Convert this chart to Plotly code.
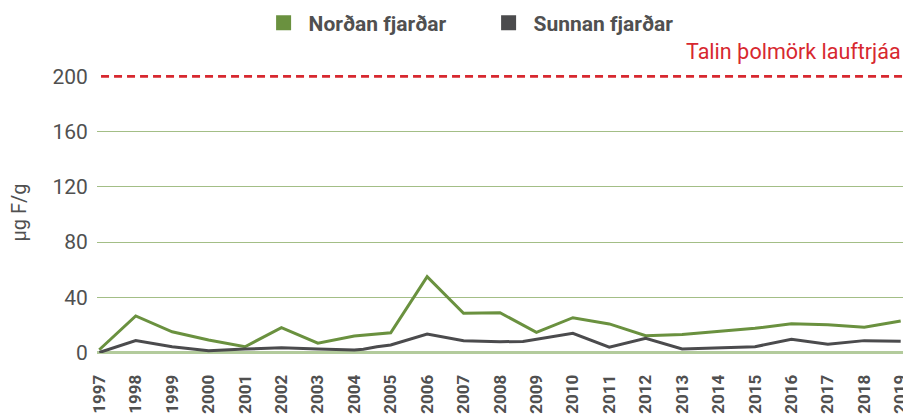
import plotly.graph_objects as go

# ---- data ----
years_nordan = list(range(1997, 2020))
nordan = [2, 26.5, 15, 9, 4.2, 18, 6.7, 12, 14.3, 55, 28.4, 28.8, 14.6, 25.2,
          20.7, 12.2, 13, 15.5, 17.5, 20.9, 20.1, 18.3, 22.8]

years_sunnan = [1997, 1998, 1999, 2000, 2001, 2002, 2003, 2004, 2004.25, 2004.62,
                2005, 2006, 2007, 2008, 2008.63, 2009, 2010, 2011, 2012, 2013,
                2014, 2015, 2016, 2017, 2018, 2019]
sunnan = [0, 8.6, 4.2, 1.2, 2.5, 3.5, 2.5, 1.8, 2.3, 4.2,
          5.4, 13.4, 8.5, 7.8, 8.0, 9.7, 13.9, 3.8, 10.3, 2.5,
          3.3, 4.2, 9.6, 5.9, 8.6, 8.1]

tick_years = list(range(1997, 2020))
tick_labels = [str(y) for y in tick_years]
y_ticks = [0, 40, 80, 120, 160, 200]
threshold = 200
threshold_label = "Talin þolmörk lauftrjáa"
y_title = "µg F/g"
name_n = "Norðan fjarðar"
name_s = "Sunnan fjarðar"

GREEN = "#6a913f"
DARK = "#4b4b4d"
RED = "#d7282f"
TXT = "#505050"
FONT = "Roboto"

fig = go.Figure()
fig.add_trace(go.Scatter(x=years_nordan, y=nordan, mode="lines",
                         line=dict(color=GREEN, width=3), showlegend=False))
fig.add_trace(go.Scatter(x=years_sunnan, y=sunnan, mode="lines",
                         line=dict(color=DARK, width=3), showlegend=False))
# legend entries (square swatches)
fig.add_trace(go.Scatter(x=[None], y=[None], mode="markers", name=name_n,
                         marker=dict(symbol="square", size=15, color=GREEN)))
fig.add_trace(go.Scatter(x=[None], y=[None], mode="markers", name=name_s,
                         marker=dict(symbol="square", size=15, color=DARK)))

# cover gridline at threshold and draw dashed threshold line
fig.add_shape(type="line", xref="paper", x0=0, x1=1, yref="y", y0=threshold, y1=threshold,
              line=dict(color="white", width=4), layer="above")
fig.add_shape(type="line", xref="paper", x0=0.005, x1=1, yref="y", y0=threshold, y1=threshold,
              line=dict(color=RED, width=2.7, dash="8px,5px"), layer="above")

fig.add_annotation(text=threshold_label, xref="paper", yref="paper", x=0.9975, y=0.962,
                   xanchor="right", yanchor="middle", showarrow=False,
                   font=dict(family=FONT, size=21.5, color=RED))
fig.add_annotation(text=y_title, xref="paper", yref="paper", x=-0.096, y=0.45,
                   xanchor="center", yanchor="middle", textangle=-90, showarrow=False,
                   font=dict(family=FONT, size=20, color=TXT))

# page body has an 8px margin, so the figure is sized 8px smaller
fig.update_layout(
    width=903, height=408,
    margin=dict(l=89, r=6, t=32, b=63, autoexpand=False),
    paper_bgcolor="white", plot_bgcolor="white",
    font=dict(family=FONT, color=TXT),
    legend=dict(orientation="h", x=0.2, xanchor="left", yref="container", y=0.963,
                yanchor="middle", font=dict(family=FONT, size=21, color=TXT, weight="bold"),
                itemwidth=40, entrywidth=170, entrywidthmode="pixels",
                bgcolor="rgba(0,0,0,0)"),
    xaxis=dict(range=[1996.937, 2019.118], tickmode="array", tickvals=tick_years,
               ticktext=tick_labels, tickangle=-90, showgrid=False, zeroline=False,
               showline=False, ticks="outside", ticklen=14, tickcolor="rgba(0,0,0,0)",
               automargin=False,
               tickfont=dict(family=FONT, size=17, color=TXT, weight="bold")),
    yaxis=dict(range=[-0.36, 226.4], tickmode="array", tickvals=y_ticks,
               showgrid=True, gridcolor="#a3be86", gridwidth=1.3,
               zeroline=True, zerolinecolor="#b3cb9c", zerolinewidth=3,
               showline=False, ticks="outside", ticklen=4, tickcolor="rgba(0,0,0,0)",
               automargin=False,
               tickfont=dict(family=FONT, size=21, color=TXT)),
)

fig.write_html("out.html")
